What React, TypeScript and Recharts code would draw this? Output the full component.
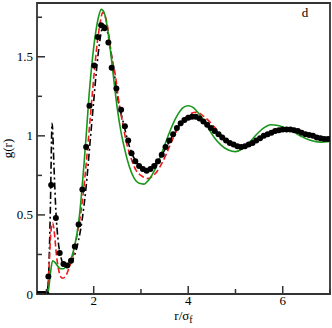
import { LineChart, Line, XAxis, YAxis, ReferenceArea, Label } from 'recharts';

// simulation points (black dots)
const dotR = [0.8, 0.84, 0.88, 0.92, 0.96, 1.0, 1.04, 1.1, 1.2, 1.28, 1.36, 1.44, 1.52, 1.6, 1.68, 1.76, 1.84, 1.91, 2.01, 2.085, 2.157, 2.23, 2.31, 2.38, 2.48, 2.58, 2.66, 2.73, 2.8, 2.88, 2.96, 3.04, 3.12, 3.2, 3.28, 3.36, 3.44, 3.52, 3.6, 3.68, 3.76, 3.84, 3.92, 4.0, 4.08, 4.16, 4.24, 4.32, 4.4, 4.48, 4.56, 4.64, 4.72, 4.8, 4.88, 4.96, 5.04, 5.12, 5.2, 5.28, 5.36, 5.44, 5.52, 5.6, 5.68, 5.76, 5.84, 5.92, 6.0, 6.08, 6.16, 6.24, 6.32, 6.4, 6.48, 6.56, 6.64, 6.72, 6.8, 6.88, 6.96];
const dotG = [0, 0, 0, 0, 0, 0, 0.11, 0.69, 0.48, 0.26, 0.19, 0.18, 0.21, 0.3, 0.44, 0.66, 0.93, 1.19, 1.445, 1.625, 1.7, 1.68, 1.59, 1.43, 1.3, 1.165, 1.06, 0.97, 0.89, 0.84, 0.81, 0.79, 0.78, 0.79, 0.81, 0.84, 0.88, 0.93, 0.97, 1.01, 1.05, 1.08, 1.1, 1.115, 1.12, 1.12, 1.11, 1.09, 1.07, 1.05, 1.03, 1.01, 0.99, 0.97, 0.955, 0.945, 0.935, 0.93, 0.935, 0.945, 0.955, 0.97, 0.985, 1.0, 1.01, 1.02, 1.03, 1.035, 1.04, 1.04, 1.04, 1.035, 1.03, 1.02, 1.01, 1.005, 1.0, 0.99, 0.985, 0.98, 0.98];

// black dash-dot curve
const dashDotR = [0.8, 1.0, 1.04, 1.08, 1.12, 1.16, 1.2, 1.25, 1.3, 1.36, 1.44, 1.52, 1.6, 1.68, 1.76, 1.84, 1.92, 2.0, 2.06, 2.12, 2.18, 2.23, 2.28, 2.35, 2.43, 2.52, 2.63, 2.72, 2.82, 2.92, 3.02, 3.12, 3.22, 3.35, 3.5, 3.65, 3.8, 3.95, 4.1, 4.25, 4.4, 4.55, 4.7, 4.85, 5.0, 5.12, 5.25, 5.4, 5.55, 5.7, 5.85, 6.0, 6.15, 6.3, 6.5, 6.7, 6.85, 7.0];
const dashDotG = [0, 0, 0.08, 0.5, 1.08, 0.8, 0.52, 0.33, 0.24, 0.19, 0.18, 0.2, 0.25, 0.34, 0.48, 0.68, 0.95, 1.22, 1.42, 1.58, 1.68, 1.7, 1.67, 1.56, 1.4, 1.22, 1.08, 0.97, 0.88, 0.83, 0.8, 0.79, 0.8, 0.84, 0.91, 0.99, 1.06, 1.1, 1.12, 1.11, 1.08, 1.04, 1.0, 0.96, 0.94, 0.93, 0.94, 0.96, 0.99, 1.015, 1.03, 1.04, 1.04, 1.03, 1.01, 0.995, 0.985, 0.98];

// red dashed curve
const redR = [0.8, 1.0, 1.03, 1.06, 1.09, 1.13, 1.17, 1.21, 1.26, 1.3, 1.34, 1.4, 1.46, 1.52, 1.59, 1.68, 1.72, 1.78, 1.84, 1.9, 1.96, 2.02, 2.08, 2.14, 2.19, 2.24, 2.3, 2.38, 2.46, 2.53, 2.6, 2.7, 2.8, 2.9, 3.0, 3.15, 3.3, 3.45, 3.6, 3.75, 3.9, 4.05, 4.18, 4.3, 4.45, 4.6, 4.75, 4.9, 5.05, 5.15, 5.3, 5.45, 5.6, 5.75, 5.9, 6.05, 6.15, 6.3, 6.5, 6.7, 6.85, 7.0];
const redG = [0, 0, 0.05, 0.2, 0.38, 0.45, 0.38, 0.25, 0.15, 0.11, 0.1, 0.11, 0.15, 0.2, 0.28, 0.43, 0.5, 0.64, 0.82, 1.02, 1.23, 1.43, 1.6, 1.72, 1.78, 1.76, 1.68, 1.5, 1.38, 1.22, 1.1, 0.95, 0.85, 0.78, 0.75, 0.73, 0.76, 0.83, 0.93, 1.03, 1.1, 1.14, 1.15, 1.13, 1.09, 1.04, 0.99, 0.95, 0.93, 0.92, 0.94, 0.97, 1.0, 1.03, 1.045, 1.05, 1.05, 1.04, 1.02, 1.0, 0.99, 0.98];

// green solid curve
const greenR = [0.8, 1.0, 1.04, 1.08, 1.13, 1.18, 1.24, 1.3, 1.36, 1.42, 1.48, 1.54, 1.6, 1.65, 1.7, 1.75, 1.8, 1.85, 1.9, 1.95, 2.0, 2.05, 2.1, 2.16, 2.22, 2.28, 2.35, 2.42, 2.5, 2.58, 2.66, 2.76, 2.86, 2.96, 3.06, 3.16, 3.3, 3.45, 3.6, 3.75, 3.9, 4.0, 4.1, 4.25, 4.4, 4.55, 4.7, 4.85, 5.0, 5.15, 5.3, 5.45, 5.6, 5.75, 5.9, 6.05, 6.2, 6.4, 6.6, 6.8, 7.0];
const greenG = [0, 0, 0.02, 0.12, 0.21, 0.2, 0.175, 0.16, 0.16, 0.18, 0.2, 0.24, 0.31, 0.39, 0.5, 0.66, 0.84, 1.04, 1.25, 1.42, 1.56, 1.67, 1.75, 1.8, 1.78, 1.7, 1.55, 1.37, 1.17, 1.02, 0.91, 0.8, 0.73, 0.7, 0.695, 0.72, 0.79, 0.9, 1.02, 1.12, 1.18, 1.19, 1.18, 1.13, 1.06, 0.99, 0.94, 0.91, 0.9, 0.92, 0.96, 1.01, 1.05, 1.07, 1.065, 1.05, 1.03, 0.995, 0.97, 0.96, 0.965];

const xTicks = [1, 2, 3, 4, 5, 6, 7];
const xLabels = [2, 4, 6];
const yTicks = [0, 0.25, 0.5, 0.75, 1, 1.25, 1.5, 1.75];
const yLabels = ['0', '0.5', '1', '1.5'];

const toPoints = (rs: number[], gs: number[]) => rs.map((r, i) => ({ r, g: gs[i] }));
const dotData = toPoints(dotR, dotG);
const dashDotData = toPoints(dashDotR, dashDotG);
const redData = toPoints(redR, redG);
const greenData = toPoints(greenR, greenG);

const FONT = '"Liberation Serif", "DejaVu Serif", serif';
const AXIS = '#333';

const XTick = (props: any) => {
  const { x, y, payload } = props;
  const major = xLabels.includes(payload.value);
  return (
    <g>
      <line x1={x} x2={x} y1={y} y2={y - (major ? 8 : 5)} stroke={AXIS} strokeWidth={1.5} />
      {major && (
        <text x={x} y={y + 11} textAnchor="middle" fontFamily={FONT} fontSize={13} fill="#000">
          {payload.value}
        </text>
      )}
    </g>
  );
};

const YTick = (props: any) => {
  const { x, y, payload } = props;
  const label = String(payload.value);
  const major = yLabels.includes(label);
  return (
    <g>
      <line x1={x} x2={x + (major ? 8 : 5)} y1={y} y2={y} stroke={AXIS} strokeWidth={1.5} />
      {major && (
        <text x={x - 4} y={y + 4.5} textAnchor="end" fontFamily={FONT} fontSize={13} fill="#000">
          {label}
        </text>
      )}
    </g>
  );
};

const XTitle = (props: any) => {
  const { x, width, y } = props.viewBox;
  return (
    <g>
      <text x={x + width / 2} y={y + 26} textAnchor="middle" fontFamily={FONT} fontSize={13} fill="#000">
        r/σ<tspan fontSize={10} dy={3}>f</tspan>
      </text>
      <text x={305} y={17} textAnchor="middle" fontFamily={FONT} fontSize={13} fill="#000">
        d
      </text>
    </g>
  );
};

const YTitle = (props: any) => {
  const { y, height } = props.viewBox;
  const cy = y + height / 2;
  return (
    <text x={12} y={cy} transform={`rotate(-90, 12, ${cy})`} textAnchor="middle" fontFamily={FONT} fontSize={13} fill="#000">
      g(r)
    </text>
  );
};

export default function App() {
  return (
    <div style={{ position: 'absolute', left: 0, top: 0, width: 332, height: 328, background: '#fff' }}>
      <LineChart width={332} height={328} margin={{ top: 3, right: 2, left: 0, bottom: 0 }}>
        <XAxis
          type="number"
          dataKey="r"
          domain={[0.8, 7]}
          ticks={xTicks}
          allowDataOverflow
          height={34}
          tickSize={0}
          tickMargin={0}
          tickLine={false}
          axisLine={false}
          tick={<XTick />}
          interval={0}
        >
          <Label content={<XTitle />} />
        </XAxis>
        <YAxis
          type="number"
          dataKey="g"
          domain={[0, 1.84]}
          ticks={yTicks}
          allowDataOverflow
          width={37}
          tickSize={0}
          tickMargin={0}
          tickLine={false}
          axisLine={false}
          tick={<YTick />}
          interval={0}
        >
          <Label content={<YTitle />} />
        </YAxis>
        <Line
          data={dotData}
          dataKey="g"
          stroke="none"
          strokeWidth={0}
          dot={{ r: 3, fill: '#000', stroke: 'none' }}
          isAnimationActive={false}
        />
        <Line
          data={dashDotData}
          dataKey="g"
          type="monotone"
          stroke="#000"
          strokeWidth={1.6}
          strokeDasharray="7 3 2 3"
          dot={false}
          isAnimationActive={false}
        />
        <Line
          data={redData}
          dataKey="g"
          type="monotone"
          stroke="#f01818"
          strokeWidth={1.6}
          strokeDasharray="6 3"
          dot={false}
          isAnimationActive={false}
        />
        <Line
          data={greenData}
          dataKey="g"
          type="monotone"
          stroke="#17961a"
          strokeWidth={1.6}
          dot={false}
          isAnimationActive={false}
        />
        <ReferenceArea x1={0.8} x2={7} y1={0} y2={1.84} fill="none" stroke={AXIS} strokeWidth={1.8} />
      </LineChart>
    </div>
  );
}
